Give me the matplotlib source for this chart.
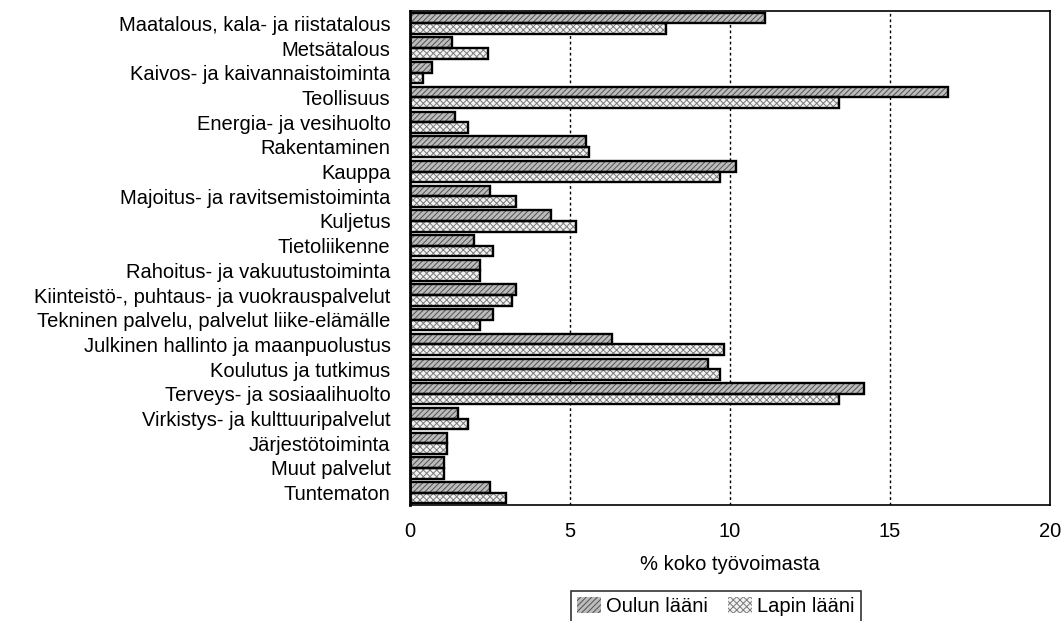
import matplotlib.pyplot as plt
import matplotlib.patches as mpatches
import numpy as np

plt.rcParams["font.family"] = ["Liberation Sans", "DejaVu Sans"]

# ---------- data ----------
categories = [
    "Maatalous, kala- ja riistatalous",
    "Metsätalous",
    "Kaivos- ja kaivannaistoiminta",
    "Teollisuus",
    "Energia- ja vesihuolto",
    "Rakentaminen",
    "Kauppa",
    "Majoitus- ja ravitsemistoiminta",
    "Kuljetus",
    "Tietoliikenne",
    "Rahoitus- ja vakuutustoiminta",
    "Kiinteistö-, puhtaus- ja vuokrauspalvelut",
    "Tekninen palvelu, palvelut liike-elämälle",
    "Julkinen hallinto ja maanpuolustus",
    "Koulutus ja tutkimus",
    "Terveys- ja sosiaalihuolto",
    "Virkistys- ja kulttuuripalvelut",
    "Järjestötoiminta",
    "Muut palvelut",
    "Tuntematon",
]
oulu = [11.1, 1.3, 0.7, 16.8, 1.4, 5.5, 10.2, 2.5, 4.4, 2.0,
        2.2, 3.3, 2.6, 6.3, 9.3, 14.2, 1.5, 1.15, 1.05, 2.5]
lappi = [8.0, 2.45, 0.4, 13.4, 1.8, 5.6, 9.7, 3.3, 5.2, 2.6,
         2.2, 3.2, 2.2, 9.8, 9.7, 13.4, 1.8, 1.15, 1.05, 3.0]
series_names = ["Oulun lääni", "Lapin lääni"]
xticks = [0, 5, 10, 15, 20]

# ---------- style ----------
sty = {
    "oulu":  dict(face="#bcbcbc", hatch="//////", hcol="#505050"),
    "lappi": dict(face="#f2f2f2", hatch="xxxxx", hcol="#7a7a7a"),
}
plt.rcParams["hatch.linewidth"] = 0.7

fig = plt.figure(figsize=(10.63, 6.21), dpi=100)
ax = fig.add_axes([410 / 1063, 1 - 505 / 621, 640 / 1063, 494 / 621])

y = np.arange(len(categories))
h = 0.43
off = 0.215

for vals, key, dy in [(oulu, "oulu", -off), (lappi, "lappi", off)]:
    s = sty[key]
    ax.barh(y + dy, vals, height=h, color=s["face"], hatch=s["hatch"],
            edgecolor=s["hcol"], linewidth=0, zorder=2)
    ax.barh(y + dy, vals, height=h, fill=False, edgecolor="black",
            linewidth=1.7, zorder=3)

ax.set_xlim(0, 20)
ax.set_ylim(len(categories) - 0.5, -0.5)
ax.set_xticks(xticks)
ax.set_xticklabels([str(t) for t in xticks], fontsize=14.5)
ax.set_yticks(y)
ax.set_yticklabels(categories, fontsize=14.5)
ax.tick_params(axis="both", length=0)
ax.tick_params(axis="y", pad=14)
ax.tick_params(axis="x", pad=12)
for t in [5, 10, 15]:
    ax.axvline(t, color="black", linewidth=1, linestyle=(0, (2, 2)), zorder=1)
for sp in ax.spines.values():
    sp.set_linewidth(1.2)
ax.spines["left"].set_linewidth(2)

ax.set_xlabel("% koko työvoimasta", fontsize=14.5, labelpad=10)

handles = [
    mpatches.Patch(facecolor=sty[k]["face"], hatch=sty[k]["hatch"],
                   edgecolor=sty[k]["hcol"], linewidth=0, label=n)
    for k, n in zip(["oulu", "lappi"], series_names)
]
leg = fig.legend(handles=handles, loc="upper center",
                 bbox_to_anchor=(716 / 1063, 1 - 591 / 621), ncol=2,
                 fontsize=14.5, frameon=True, fancybox=False,
                 handlelength=1.2, handleheight=0.8, handletextpad=0.25,
                 columnspacing=1.0, borderpad=0.3, borderaxespad=0)
leg.get_frame().set_edgecolor("black")
leg.get_frame().set_linewidth(1.2)

fig.savefig("out.png", dpi=100)
